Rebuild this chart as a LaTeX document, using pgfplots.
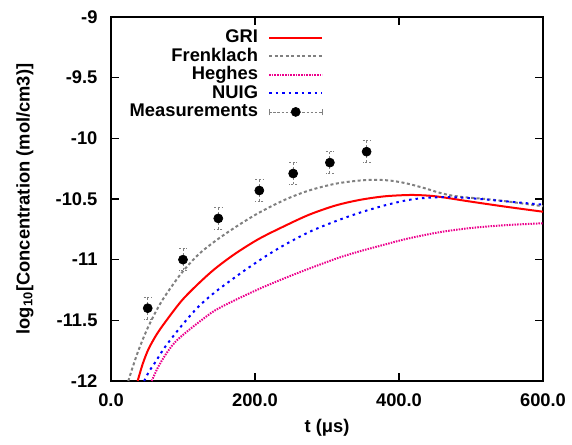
\documentclass[border=0pt]{standalone}
\usepackage{fontspec}
\setmainfont{Liberation Sans}
\usepackage{pgfplots}
\usepackage{pgfplotstable}
\pgfplotsset{compat=1.18}

\pgfplotstableread{
x y
37 -12.0
44 -11.86
52 -11.738
63 -11.62
75 -11.517
98 -11.339
121 -11.20
144 -11.077
172 -10.953
205 -10.83
242 -10.72
275 -10.63
311 -10.555
345 -10.508
380 -10.478
415 -10.467
440 -10.472
460 -10.485
500 -10.522
550 -10.565
600 -10.605
}\gri

\pgfplotstableread{
x y
24 -12.0
31 -11.87
38 -11.75
45 -11.645
52 -11.55
63 -11.42
75 -11.30
98 -11.11
121 -10.96
144 -10.85
172 -10.735
205 -10.615
242 -10.505
275 -10.43
311 -10.375
345 -10.348
370 -10.342
390 -10.35
411 -10.372
435 -10.41
453 -10.443
470 -10.468
490 -10.485
520 -10.50
550 -10.52
600 -10.56
}\frenklach

\pgfplotstableread{
x y
56.5 -12.0
65 -11.89
75 -11.79
86 -11.70
98 -11.63
121 -11.52
144 -11.42
170 -11.34
210 -11.23
255 -11.12
311 -10.995
345 -10.932
380 -10.876
411 -10.828
457 -10.773
503 -10.737
550 -10.715
600 -10.70
}\heghes

\pgfplotstableread{
x y
46 -12.0
53 -11.92
61 -11.85
75 -11.72
98 -11.545
121 -11.39
144 -11.27
170 -11.155
186 -11.087
214 -10.975
242 -10.875
276 -10.77
311 -10.685
346 -10.612
380 -10.553
411 -10.51
435 -10.492
457 -10.485
480 -10.487
503 -10.495
550 -10.52
600 -10.547
}\nuig

\pgfplotstableread{
x y e
51 -11.40 0.09
100 -11.00 0.09
149 -10.66 0.09
206 -10.43 0.09
253 -10.29 0.09
304 -10.20 0.09
355 -10.11 0.09
}\meas

\begin{document}
\begin{tikzpicture}
\begin{axis}[
  scale only axis, width=259.2pt, height=218.4pt,
  xmin=0, xmax=600, ymin=-12, ymax=-9,
  xtick={0,200,400,600}, xticklabels={0.0,200.0,400.0,600.0},
  ytick={-12,-11.5,-11,-10.5,-10,-9.5,-9},
  yticklabels={-12,-11.5,-11,-10.5,-10,-9.5,-9},
  tick align=inside, major tick length=4.8pt,
  tick style={black, line width=0.8pt},
  axis line style={line width=0.9pt},
  font=\fontsize{11}{13}\selectfont\bfseries,
  xticklabel style={yshift=-4.05pt},
  yticklabel style={xshift=-4.6pt},
  xlabel={t (μs)},
  ylabel={log\textsubscript{10}[Concentration (mol/cm3)]},
  xlabel style={at={(axis description cs:0.5,0)}, anchor=center, yshift=-28.2pt},
  ylabel style={at={(axis description cs:0,0.5)}, anchor=center, yshift=51.6pt},
  legend plot pos=right,
  legend cell align=right,
  legend style={at={(rel axis cs:0.504,0.978)}, anchor=north east, draw=none, fill=none,
    font=\fontsize{11}{13}\selectfont\bfseries, row sep=0pt,
    nodes={inner xsep=3pt, inner ysep=0.55pt, text height=8pt, text depth=2pt}},
  legend image code/.code={\path (0pt,-1pt) (35pt,1pt); \draw[#1] (3pt,0pt) -- (35pt,0pt);},
]
\addplot[red, line width=1.2pt, smooth, tension=0.5] table[x=x,y=y]{\gri};
\addlegendentry{GRI}
\addplot[gray, line width=1.2pt, dash pattern=on 1.8pt off 1.5pt, smooth, tension=0.5] table[x=x,y=y]{\frenklach};
\addlegendentry{Frenklach}
\addplot[magenta, line width=1.2pt, dash pattern=on 0.9pt off 0.7pt, smooth, tension=0.5] table[x=x,y=y]{\heghes};
\addlegendentry{Heghes}
\addplot[blue, line width=1.2pt, dash pattern=on 1.5pt off 2.4pt, smooth, tension=0.5] table[x=x,y=y]{\nuig};
\addlegendentry{NUIG}
\addplot[black, only marks, mark=*, mark size=2.7pt,
  legend image code/.code={
    \path (0pt,-1pt) (35pt,1pt);
    \draw[gray, line width=0.5pt, dash pattern=on 1.5pt off 1pt] (3pt,0pt) -- (35pt,0pt);
    \draw[gray, line width=0.5pt] (3pt,-2pt) -- (3pt,2pt) (35pt,-2pt) -- (35pt,2pt);
    \fill[black] (19pt,0pt) circle (2.7pt);},
  error bars/.cd, y dir=both, y explicit,
  error bar style={gray, line width=0.5pt, dash pattern=on 1.5pt off 1pt},
  error mark options={gray, rotate=90, mark size=2.4pt, line width=0.5pt, dash pattern=on 1.2pt off 1pt},
  ]
  table[x=x,y=y,y error=e]{\meas};
\addlegendentry{Measurements}
\end{axis}
\pgfresetboundingbox
\path[use as bounding box] ([shift={(-66.6pt,-37.8pt)}]current axis.south west) rectangle ([shift={(17.4pt,10.2pt)}]current axis.north east);
\end{tikzpicture}
\end{document}
